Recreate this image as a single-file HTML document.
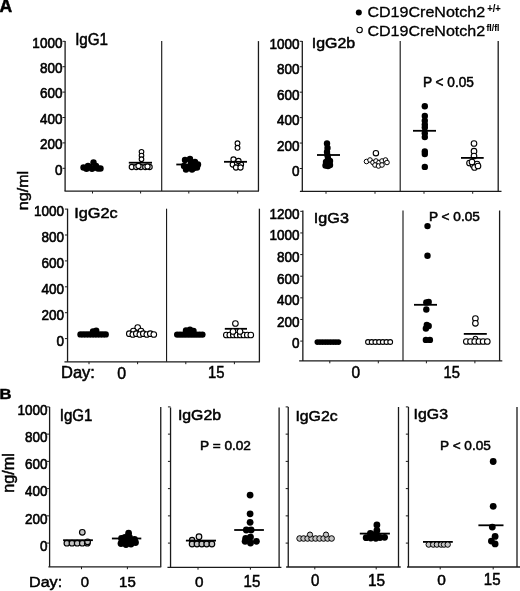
<!DOCTYPE html>
<html><head><meta charset="utf-8"><style>
html,body{margin:0;padding:0;background:#fff;}
body{width:520px;height:591px;overflow:hidden;}
svg{display:block;font-family:"Liberation Sans",sans-serif;will-change:transform;}
text{stroke:#000;}
</style></head><body>
<svg width="520" height="591" viewBox="0 0 520 591">
<rect width="520" height="591" fill="#fff"/>
<text transform="translate(-0.49 12.25) scale(0.9454 1)" font-size="18.60" font-weight="bold" fill="#000" stroke-width="0.50">A</text>
<circle cx="358.80" cy="12.50" r="3.00" fill="#000"/>
<circle cx="359.60" cy="30.00" r="2.70" fill="#fff" stroke="#000" stroke-width="1.10"/>
<text transform="translate(367.43 16.95) scale(1.0876 1)" font-size="14.77" fill="#000" stroke-width="0.30">CD19CreNotch2</text>
<text transform="translate(367.43 35.85) scale(1.0876 1)" font-size="14.77" fill="#000" stroke-width="0.30">CD19CreNotch2</text>
<text transform="translate(487.26 12.15) scale(0.9194 1)" font-size="10.21" font-weight="bold" fill="#000" stroke-width="0.10">+/+</text>
<text transform="translate(486.50 31.05) scale(0.9785 1)" font-size="8.83" font-weight="bold" fill="#000" stroke-width="0.10">fl/fl</text>
<text transform="translate(28.40 210.27) rotate(-90) scale(1.0755 1)" font-size="15.00" stroke-width="0.45">ng/ml</text>
<line x1="65.10" y1="41.10" x2="65.10" y2="191.10" stroke="#1a1a1a" stroke-width="1.30"/>
<line x1="64.50" y1="191.10" x2="258.95" y2="191.10" stroke="#1a1a1a" stroke-width="1.30"/>
<line x1="258.45" y1="41.10" x2="258.45" y2="191.10" stroke="#1a1a1a" stroke-width="1.30"/>
<line x1="161.70" y1="41.10" x2="161.70" y2="191.10" stroke="#1a1a1a" stroke-width="1.15"/>
<line x1="62.50" y1="168.30" x2="65.10" y2="168.30" stroke="#1a1a1a" stroke-width="1.00"/>
<line x1="62.50" y1="142.90" x2="65.10" y2="142.90" stroke="#1a1a1a" stroke-width="1.00"/>
<line x1="62.50" y1="117.50" x2="65.10" y2="117.50" stroke="#1a1a1a" stroke-width="1.00"/>
<line x1="62.50" y1="92.10" x2="65.10" y2="92.10" stroke="#1a1a1a" stroke-width="1.00"/>
<line x1="62.50" y1="66.70" x2="65.10" y2="66.70" stroke="#1a1a1a" stroke-width="1.00"/>
<line x1="62.50" y1="41.30" x2="65.10" y2="41.30" stroke="#1a1a1a" stroke-width="1.00"/>
<line x1="92.50" y1="191.10" x2="92.50" y2="193.50" stroke="#1a1a1a" stroke-width="1.00"/>
<line x1="140.60" y1="191.10" x2="140.60" y2="193.50" stroke="#1a1a1a" stroke-width="1.00"/>
<line x1="188.80" y1="191.10" x2="188.80" y2="193.50" stroke="#1a1a1a" stroke-width="1.00"/>
<line x1="237.70" y1="191.10" x2="237.70" y2="193.50" stroke="#1a1a1a" stroke-width="1.00"/>
<text transform="translate(54.91 174.60) scale(0.9450 1)" font-size="14.30" stroke-width="0.60">0</text>
<text transform="translate(39.88 149.20) scale(0.9450 1)" font-size="14.30" stroke-width="0.60">200</text>
<text transform="translate(39.88 123.80) scale(0.9450 1)" font-size="14.30" stroke-width="0.60">400</text>
<text transform="translate(39.88 98.40) scale(0.9450 1)" font-size="14.30" stroke-width="0.60">600</text>
<text transform="translate(39.88 73.00) scale(0.9450 1)" font-size="14.30" stroke-width="0.60">800</text>
<text transform="translate(32.37 47.60) scale(0.9450 1)" font-size="14.30" stroke-width="0.60">1000</text>
<text transform="translate(75.15 45.25) scale(0.9734 1)" font-size="15.61" fill="#000" stroke-width="0.50">IgG1</text>
<line x1="302.30" y1="41.00" x2="302.30" y2="191.35" stroke="#1a1a1a" stroke-width="1.30"/>
<line x1="299.90" y1="191.35" x2="501.50" y2="191.35" stroke="#1a1a1a" stroke-width="1.30"/>
<line x1="498.20" y1="41.00" x2="498.20" y2="191.35" stroke="#1a1a1a" stroke-width="1.30"/>
<line x1="400.20" y1="41.00" x2="400.20" y2="191.35" stroke="#1a1a1a" stroke-width="1.15"/>
<line x1="299.70" y1="168.50" x2="302.30" y2="168.50" stroke="#1a1a1a" stroke-width="1.00"/>
<line x1="299.70" y1="143.06" x2="302.30" y2="143.06" stroke="#1a1a1a" stroke-width="1.00"/>
<line x1="299.70" y1="117.62" x2="302.30" y2="117.62" stroke="#1a1a1a" stroke-width="1.00"/>
<line x1="299.70" y1="92.18" x2="302.30" y2="92.18" stroke="#1a1a1a" stroke-width="1.00"/>
<line x1="299.70" y1="66.74" x2="302.30" y2="66.74" stroke="#1a1a1a" stroke-width="1.00"/>
<line x1="299.70" y1="41.30" x2="302.30" y2="41.30" stroke="#1a1a1a" stroke-width="1.00"/>
<line x1="326.00" y1="191.35" x2="326.00" y2="193.75" stroke="#1a1a1a" stroke-width="1.00"/>
<line x1="375.00" y1="191.35" x2="375.00" y2="193.75" stroke="#1a1a1a" stroke-width="1.00"/>
<line x1="424.00" y1="191.35" x2="424.00" y2="193.75" stroke="#1a1a1a" stroke-width="1.00"/>
<line x1="472.70" y1="191.35" x2="472.70" y2="193.75" stroke="#1a1a1a" stroke-width="1.00"/>
<text transform="translate(292.01 176.25) scale(0.9450 1)" font-size="14.30" stroke-width="0.60">0</text>
<text transform="translate(276.98 150.81) scale(0.9450 1)" font-size="14.30" stroke-width="0.60">200</text>
<text transform="translate(276.98 125.37) scale(0.9450 1)" font-size="14.30" stroke-width="0.60">400</text>
<text transform="translate(276.98 99.93) scale(0.9450 1)" font-size="14.30" stroke-width="0.60">600</text>
<text transform="translate(276.98 74.49) scale(0.9450 1)" font-size="14.30" stroke-width="0.60">800</text>
<text transform="translate(269.47 49.05) scale(0.9450 1)" font-size="14.30" stroke-width="0.60">1000</text>
<text transform="translate(311.78 47.55) scale(1.0601 1)" font-size="15.04" fill="#000" stroke-width="0.50">IgG2b</text>
<text transform="translate(422.93 86.85) scale(0.9941 1)" font-size="13.75" fill="#000" stroke-width="0.50">P &lt; 0.05</text>
<line x1="67.55" y1="208.70" x2="67.55" y2="361.80" stroke="#1a1a1a" stroke-width="1.30"/>
<line x1="64.45" y1="361.80" x2="259.90" y2="361.80" stroke="#1a1a1a" stroke-width="1.30"/>
<line x1="259.40" y1="208.70" x2="259.40" y2="361.80" stroke="#1a1a1a" stroke-width="1.30"/>
<line x1="166.55" y1="208.70" x2="166.55" y2="361.80" stroke="#1a1a1a" stroke-width="1.15"/>
<line x1="64.95" y1="338.60" x2="67.55" y2="338.60" stroke="#1a1a1a" stroke-width="1.00"/>
<line x1="64.95" y1="312.70" x2="67.55" y2="312.70" stroke="#1a1a1a" stroke-width="1.00"/>
<line x1="64.95" y1="286.80" x2="67.55" y2="286.80" stroke="#1a1a1a" stroke-width="1.00"/>
<line x1="64.95" y1="260.90" x2="67.55" y2="260.90" stroke="#1a1a1a" stroke-width="1.00"/>
<line x1="64.95" y1="235.00" x2="67.55" y2="235.00" stroke="#1a1a1a" stroke-width="1.00"/>
<line x1="64.95" y1="209.10" x2="67.55" y2="209.10" stroke="#1a1a1a" stroke-width="1.00"/>
<line x1="89.00" y1="361.80" x2="89.00" y2="364.20" stroke="#1a1a1a" stroke-width="1.00"/>
<line x1="137.60" y1="361.80" x2="137.60" y2="364.20" stroke="#1a1a1a" stroke-width="1.00"/>
<line x1="185.80" y1="361.80" x2="185.80" y2="364.20" stroke="#1a1a1a" stroke-width="1.00"/>
<line x1="234.40" y1="361.80" x2="234.40" y2="364.20" stroke="#1a1a1a" stroke-width="1.00"/>
<text transform="translate(56.61 345.70) scale(0.9450 1)" font-size="14.30" stroke-width="0.60">0</text>
<text transform="translate(41.58 319.80) scale(0.9450 1)" font-size="14.30" stroke-width="0.60">200</text>
<text transform="translate(41.58 293.90) scale(0.9450 1)" font-size="14.30" stroke-width="0.60">400</text>
<text transform="translate(41.58 268.00) scale(0.9450 1)" font-size="14.30" stroke-width="0.60">600</text>
<text transform="translate(41.58 242.10) scale(0.9450 1)" font-size="14.30" stroke-width="0.60">800</text>
<text transform="translate(34.07 216.20) scale(0.9450 1)" font-size="14.30" stroke-width="0.60">1000</text>
<text transform="translate(74.24 218.15) scale(1.0749 1)" font-size="15.18" fill="#000" stroke-width="0.50">IgG2c</text>
<line x1="302.85" y1="210.50" x2="302.85" y2="360.90" stroke="#1a1a1a" stroke-width="1.30"/>
<line x1="299.15" y1="360.90" x2="502.30" y2="360.90" stroke="#1a1a1a" stroke-width="1.30"/>
<line x1="499.60" y1="210.50" x2="499.60" y2="360.90" stroke="#1a1a1a" stroke-width="1.30"/>
<line x1="403.00" y1="210.50" x2="403.00" y2="360.90" stroke="#1a1a1a" stroke-width="1.15"/>
<line x1="300.25" y1="341.10" x2="302.85" y2="341.10" stroke="#1a1a1a" stroke-width="1.00"/>
<line x1="300.25" y1="319.47" x2="302.85" y2="319.47" stroke="#1a1a1a" stroke-width="1.00"/>
<line x1="300.25" y1="297.84" x2="302.85" y2="297.84" stroke="#1a1a1a" stroke-width="1.00"/>
<line x1="300.25" y1="276.21" x2="302.85" y2="276.21" stroke="#1a1a1a" stroke-width="1.00"/>
<line x1="300.25" y1="254.58" x2="302.85" y2="254.58" stroke="#1a1a1a" stroke-width="1.00"/>
<line x1="300.25" y1="232.95" x2="302.85" y2="232.95" stroke="#1a1a1a" stroke-width="1.00"/>
<line x1="300.25" y1="211.32" x2="302.85" y2="211.32" stroke="#1a1a1a" stroke-width="1.00"/>
<line x1="329.80" y1="360.90" x2="329.80" y2="363.30" stroke="#1a1a1a" stroke-width="1.00"/>
<line x1="378.30" y1="360.90" x2="378.30" y2="363.30" stroke="#1a1a1a" stroke-width="1.00"/>
<line x1="426.40" y1="360.90" x2="426.40" y2="363.30" stroke="#1a1a1a" stroke-width="1.00"/>
<line x1="474.90" y1="360.90" x2="474.90" y2="363.30" stroke="#1a1a1a" stroke-width="1.00"/>
<text transform="translate(292.01 348.45) scale(0.9450 1)" font-size="14.30" stroke-width="0.60">0</text>
<text transform="translate(276.98 326.82) scale(0.9450 1)" font-size="14.30" stroke-width="0.60">200</text>
<text transform="translate(276.98 305.19) scale(0.9450 1)" font-size="14.30" stroke-width="0.60">400</text>
<text transform="translate(276.98 283.56) scale(0.9450 1)" font-size="14.30" stroke-width="0.60">600</text>
<text transform="translate(276.98 261.93) scale(0.9450 1)" font-size="14.30" stroke-width="0.60">800</text>
<text transform="translate(269.47 240.30) scale(0.9450 1)" font-size="14.30" stroke-width="0.60">1000</text>
<text transform="translate(269.47 218.67) scale(0.9450 1)" font-size="14.30" stroke-width="0.60">1200</text>
<text transform="translate(313.86 223.15) scale(1.0667 1)" font-size="15.18" fill="#000" stroke-width="0.50">IgG3</text>
<text transform="translate(429.03 220.65) scale(1.1182 1)" font-size="12.17" fill="#000" stroke-width="0.50">P &lt; 0.05</text>
<text transform="translate(61.00 378.45) scale(1.0522 1)" font-size="15.70" fill="#000" stroke-width="0.50">Day:</text>
<text transform="translate(117.13 378.55) scale(0.9824 1)" font-size="16.18" fill="#000" stroke-width="0.50">0</text>
<text transform="translate(208.02 378.35) scale(0.9064 1)" font-size="16.42" fill="#000" stroke-width="0.50">15</text>
<text transform="translate(351.55 378.35) scale(0.9738 1)" font-size="15.90" fill="#000" stroke-width="0.50">0</text>
<text transform="translate(443.52 378.35) scale(0.9165 1)" font-size="16.13" fill="#000" stroke-width="0.50">15</text>
<text transform="translate(-0.56 399.25) scale(1.0648 1)" font-size="15.55" font-weight="bold" fill="#000" stroke-width="0.50">B</text>
<text transform="translate(14.00 492.78) rotate(-90) scale(1.0397 1)" font-size="15.60" stroke-width="0.45">ng/ml</text>
<line x1="49.60" y1="407.00" x2="49.60" y2="566.80" stroke="#1a1a1a" stroke-width="1.30"/>
<line x1="48.40" y1="566.80" x2="161.25" y2="566.80" stroke="#1a1a1a" stroke-width="1.30"/>
<line x1="160.75" y1="407.00" x2="160.75" y2="566.80" stroke="#1a1a1a" stroke-width="1.30"/>
<line x1="47.00" y1="543.10" x2="49.60" y2="543.10" stroke="#1a1a1a" stroke-width="1.00"/>
<line x1="47.00" y1="515.86" x2="49.60" y2="515.86" stroke="#1a1a1a" stroke-width="1.00"/>
<line x1="47.00" y1="488.62" x2="49.60" y2="488.62" stroke="#1a1a1a" stroke-width="1.00"/>
<line x1="47.00" y1="461.38" x2="49.60" y2="461.38" stroke="#1a1a1a" stroke-width="1.00"/>
<line x1="47.00" y1="434.14" x2="49.60" y2="434.14" stroke="#1a1a1a" stroke-width="1.00"/>
<line x1="47.00" y1="406.90" x2="49.60" y2="406.90" stroke="#1a1a1a" stroke-width="1.00"/>
<line x1="81.50" y1="566.80" x2="81.50" y2="569.20" stroke="#1a1a1a" stroke-width="1.00"/>
<line x1="127.40" y1="566.80" x2="127.40" y2="569.20" stroke="#1a1a1a" stroke-width="1.00"/>
<text transform="translate(40.01 550.75) scale(0.9450 1)" font-size="14.30" stroke-width="0.60">0</text>
<text transform="translate(24.98 523.51) scale(0.9450 1)" font-size="14.30" stroke-width="0.60">200</text>
<text transform="translate(24.98 496.27) scale(0.9450 1)" font-size="14.30" stroke-width="0.60">400</text>
<text transform="translate(24.98 469.03) scale(0.9450 1)" font-size="14.30" stroke-width="0.60">600</text>
<text transform="translate(24.98 441.79) scale(0.9450 1)" font-size="14.30" stroke-width="0.60">800</text>
<text transform="translate(17.47 414.55) scale(0.9450 1)" font-size="14.30" stroke-width="0.60">1000</text>
<line x1="170.55" y1="407.50" x2="170.55" y2="567.30" stroke="#1a1a1a" stroke-width="1.30"/>
<line x1="167.45" y1="567.30" x2="281.40" y2="567.30" stroke="#1a1a1a" stroke-width="1.30"/>
<line x1="279.10" y1="407.50" x2="279.10" y2="567.30" stroke="#1a1a1a" stroke-width="1.30"/>
<line x1="167.95" y1="543.10" x2="170.55" y2="543.10" stroke="#1a1a1a" stroke-width="1.00"/>
<line x1="167.95" y1="515.86" x2="170.55" y2="515.86" stroke="#1a1a1a" stroke-width="1.00"/>
<line x1="167.95" y1="488.62" x2="170.55" y2="488.62" stroke="#1a1a1a" stroke-width="1.00"/>
<line x1="167.95" y1="461.38" x2="170.55" y2="461.38" stroke="#1a1a1a" stroke-width="1.00"/>
<line x1="167.95" y1="434.14" x2="170.55" y2="434.14" stroke="#1a1a1a" stroke-width="1.00"/>
<line x1="167.95" y1="406.90" x2="170.55" y2="406.90" stroke="#1a1a1a" stroke-width="1.00"/>
<line x1="198.00" y1="567.30" x2="198.00" y2="569.70" stroke="#1a1a1a" stroke-width="1.00"/>
<line x1="250.40" y1="567.30" x2="250.40" y2="569.70" stroke="#1a1a1a" stroke-width="1.00"/>
<line x1="288.25" y1="407.00" x2="288.25" y2="567.00" stroke="#1a1a1a" stroke-width="1.30"/>
<line x1="286.15" y1="567.00" x2="400.70" y2="567.00" stroke="#1a1a1a" stroke-width="1.30"/>
<line x1="398.50" y1="407.00" x2="398.50" y2="567.00" stroke="#1a1a1a" stroke-width="1.30"/>
<line x1="285.65" y1="543.10" x2="288.25" y2="543.10" stroke="#1a1a1a" stroke-width="1.00"/>
<line x1="285.65" y1="515.86" x2="288.25" y2="515.86" stroke="#1a1a1a" stroke-width="1.00"/>
<line x1="285.65" y1="488.62" x2="288.25" y2="488.62" stroke="#1a1a1a" stroke-width="1.00"/>
<line x1="285.65" y1="461.38" x2="288.25" y2="461.38" stroke="#1a1a1a" stroke-width="1.00"/>
<line x1="285.65" y1="434.14" x2="288.25" y2="434.14" stroke="#1a1a1a" stroke-width="1.00"/>
<line x1="285.65" y1="406.90" x2="288.25" y2="406.90" stroke="#1a1a1a" stroke-width="1.00"/>
<line x1="314.80" y1="567.00" x2="314.80" y2="569.40" stroke="#1a1a1a" stroke-width="1.00"/>
<line x1="376.20" y1="567.00" x2="376.20" y2="569.40" stroke="#1a1a1a" stroke-width="1.00"/>
<line x1="408.45" y1="407.00" x2="408.45" y2="567.00" stroke="#1a1a1a" stroke-width="1.30"/>
<line x1="407.05" y1="567.00" x2="520.00" y2="567.00" stroke="#1a1a1a" stroke-width="1.30"/>
<line x1="517.00" y1="407.00" x2="517.00" y2="567.00" stroke="#1a1a1a" stroke-width="1.30"/>
<line x1="405.85" y1="543.10" x2="408.45" y2="543.10" stroke="#1a1a1a" stroke-width="1.00"/>
<line x1="405.85" y1="515.86" x2="408.45" y2="515.86" stroke="#1a1a1a" stroke-width="1.00"/>
<line x1="405.85" y1="488.62" x2="408.45" y2="488.62" stroke="#1a1a1a" stroke-width="1.00"/>
<line x1="405.85" y1="461.38" x2="408.45" y2="461.38" stroke="#1a1a1a" stroke-width="1.00"/>
<line x1="405.85" y1="434.14" x2="408.45" y2="434.14" stroke="#1a1a1a" stroke-width="1.00"/>
<line x1="405.85" y1="406.90" x2="408.45" y2="406.90" stroke="#1a1a1a" stroke-width="1.00"/>
<line x1="440.20" y1="567.00" x2="440.20" y2="569.40" stroke="#1a1a1a" stroke-width="1.00"/>
<line x1="493.20" y1="567.00" x2="493.20" y2="569.40" stroke="#1a1a1a" stroke-width="1.00"/>
<text transform="translate(59.76 420.65) scale(0.9671 1)" font-size="15.61" fill="#000" stroke-width="0.50">IgG1</text>
<text transform="translate(177.89 420.45) scale(1.0598 1)" font-size="14.97" fill="#000" stroke-width="0.50">IgG2b</text>
<text transform="translate(295.38 421.35) scale(1.0271 1)" font-size="15.47" fill="#000" stroke-width="0.50">IgG2c</text>
<text transform="translate(413.58 419.15) scale(1.0278 1)" font-size="15.47" fill="#000" stroke-width="0.50">IgG3</text>
<text transform="translate(200.03 449.75) scale(1.0469 1)" font-size="13.03" fill="#000" stroke-width="0.50">P = 0.02</text>
<text transform="translate(440.03 449.55) scale(1.0112 1)" font-size="13.46" fill="#000" stroke-width="0.50">P &lt; 0.05</text>
<text transform="translate(29.03 587.15) scale(1.0445 1)" font-size="15.41" fill="#000" stroke-width="0.50">Day:</text>
<text transform="translate(80.67 586.95) scale(0.9784 1)" font-size="15.18" fill="#000" stroke-width="0.50">0</text>
<text transform="translate(119.11 586.95) scale(0.9728 1)" font-size="15.41" fill="#000" stroke-width="0.50">15</text>
<text transform="translate(195.05 586.95) scale(0.9873 1)" font-size="15.47" fill="#000" stroke-width="0.50">0</text>
<text transform="translate(243.50 586.95) scale(0.9612 1)" font-size="15.70" fill="#000" stroke-width="0.50">15</text>
<text transform="translate(311.06 586.35) scale(0.9390 1)" font-size="16.04" fill="#000" stroke-width="0.50">0</text>
<text transform="translate(367.98 586.25) scale(0.9539 1)" font-size="16.13" fill="#000" stroke-width="0.50">15</text>
<text transform="translate(437.25 585.25) scale(1.0102 1)" font-size="15.32" fill="#000" stroke-width="0.50">0</text>
<text transform="translate(483.80 585.15) scale(0.9612 1)" font-size="15.70" fill="#000" stroke-width="0.50">15</text>
<circle cx="83.50" cy="167.50" r="3.20" fill="#000"/>
<circle cx="86.50" cy="168.80" r="3.20" fill="#000"/>
<circle cx="89.50" cy="167.00" r="3.20" fill="#000"/>
<circle cx="92.00" cy="168.80" r="3.20" fill="#000"/>
<circle cx="95.00" cy="167.50" r="3.20" fill="#000"/>
<circle cx="98.00" cy="168.50" r="3.20" fill="#000"/>
<circle cx="100.50" cy="168.50" r="3.20" fill="#000"/>
<circle cx="93.50" cy="162.50" r="3.20" fill="#000"/>
<circle cx="88.00" cy="166.00" r="3.20" fill="#000"/>
<circle cx="96.00" cy="166.00" r="3.20" fill="#000"/>
<circle cx="141.50" cy="151.80" r="2.30" fill="#fff" stroke="#000" stroke-width="1.10"/>
<circle cx="141.50" cy="155.50" r="2.30" fill="#fff" stroke="#000" stroke-width="1.10"/>
<circle cx="141.50" cy="159.20" r="2.30" fill="#fff" stroke="#000" stroke-width="1.10"/>
<line x1="128.80" y1="162.70" x2="152.00" y2="162.70" stroke="#000" stroke-width="1.80"/>
<circle cx="131.80" cy="167.00" r="2.60" fill="#fff" stroke="#000" stroke-width="1.10"/>
<circle cx="136.30" cy="167.00" r="2.60" fill="#fff" stroke="#000" stroke-width="1.10"/>
<circle cx="140.80" cy="167.00" r="2.60" fill="#fff" stroke="#000" stroke-width="1.10"/>
<circle cx="145.30" cy="167.00" r="2.60" fill="#fff" stroke="#000" stroke-width="1.10"/>
<circle cx="149.60" cy="167.00" r="2.60" fill="#fff" stroke="#000" stroke-width="1.10"/>
<circle cx="138.50" cy="166.00" r="2.60" fill="#fff" stroke="#000" stroke-width="1.10"/>
<circle cx="147.50" cy="166.50" r="2.60" fill="#fff" stroke="#000" stroke-width="1.10"/>
<line x1="176.30" y1="164.50" x2="200.50" y2="164.50" stroke="#000" stroke-width="1.80"/>
<circle cx="185.00" cy="160.00" r="3.20" fill="#000"/>
<circle cx="190.00" cy="159.00" r="3.20" fill="#000"/>
<circle cx="195.00" cy="162.00" r="3.20" fill="#000"/>
<circle cx="198.00" cy="164.50" r="3.20" fill="#000"/>
<circle cx="184.00" cy="166.00" r="3.20" fill="#000"/>
<circle cx="189.00" cy="167.00" r="3.20" fill="#000"/>
<circle cx="194.00" cy="168.00" r="3.20" fill="#000"/>
<circle cx="186.00" cy="169.50" r="3.20" fill="#000"/>
<circle cx="192.00" cy="169.50" r="3.20" fill="#000"/>
<circle cx="197.00" cy="167.50" r="3.20" fill="#000"/>
<circle cx="191.00" cy="163.00" r="3.20" fill="#000"/>
<circle cx="193.00" cy="165.00" r="3.20" fill="#000"/>
<circle cx="237.50" cy="143.30" r="2.40" fill="#fff" stroke="#000" stroke-width="1.10"/>
<circle cx="237.50" cy="147.80" r="2.40" fill="#fff" stroke="#000" stroke-width="1.10"/>
<circle cx="233.50" cy="159.50" r="2.60" fill="#fff" stroke="#000" stroke-width="1.10"/>
<circle cx="232.80" cy="164.50" r="2.60" fill="#fff" stroke="#000" stroke-width="1.10"/>
<circle cx="237.00" cy="163.00" r="2.60" fill="#fff" stroke="#000" stroke-width="1.10"/>
<circle cx="241.00" cy="164.50" r="2.60" fill="#fff" stroke="#000" stroke-width="1.10"/>
<circle cx="236.00" cy="167.50" r="2.60" fill="#fff" stroke="#000" stroke-width="1.10"/>
<circle cx="240.50" cy="167.50" r="2.60" fill="#fff" stroke="#000" stroke-width="1.10"/>
<circle cx="238.50" cy="161.00" r="2.60" fill="#fff" stroke="#000" stroke-width="1.10"/>
<line x1="224.00" y1="161.80" x2="247.00" y2="161.80" stroke="#000" stroke-width="1.80"/>
<circle cx="327.00" cy="143.50" r="3.20" fill="#000"/>
<circle cx="327.50" cy="148.00" r="3.20" fill="#000"/>
<circle cx="327.00" cy="152.00" r="3.20" fill="#000"/>
<circle cx="327.50" cy="155.50" r="3.20" fill="#000"/>
<circle cx="328.00" cy="158.50" r="3.20" fill="#000"/>
<circle cx="330.00" cy="161.00" r="3.20" fill="#000"/>
<circle cx="326.00" cy="162.00" r="3.20" fill="#000"/>
<circle cx="330.00" cy="165.00" r="3.20" fill="#000"/>
<circle cx="325.50" cy="165.50" r="3.20" fill="#000"/>
<circle cx="328.00" cy="166.00" r="3.20" fill="#000"/>
<line x1="317.00" y1="155.00" x2="340.00" y2="155.00" stroke="#000" stroke-width="1.80"/>
<circle cx="375.90" cy="153.20" r="2.70" fill="#fff" stroke="#000" stroke-width="1.10"/>
<circle cx="366.50" cy="161.50" r="2.30" fill="#fff" stroke="#000" stroke-width="1.00"/>
<circle cx="370.00" cy="160.00" r="2.30" fill="#fff" stroke="#000" stroke-width="1.00"/>
<circle cx="373.00" cy="162.50" r="2.30" fill="#fff" stroke="#000" stroke-width="1.00"/>
<circle cx="376.00" cy="161.00" r="2.30" fill="#fff" stroke="#000" stroke-width="1.00"/>
<circle cx="379.00" cy="162.50" r="2.30" fill="#fff" stroke="#000" stroke-width="1.00"/>
<circle cx="382.00" cy="161.00" r="2.30" fill="#fff" stroke="#000" stroke-width="1.00"/>
<circle cx="385.50" cy="160.00" r="2.30" fill="#fff" stroke="#000" stroke-width="1.00"/>
<circle cx="387.00" cy="162.50" r="2.30" fill="#fff" stroke="#000" stroke-width="1.00"/>
<circle cx="375.00" cy="165.00" r="2.30" fill="#fff" stroke="#000" stroke-width="1.00"/>
<circle cx="378.50" cy="166.00" r="2.30" fill="#fff" stroke="#000" stroke-width="1.00"/>
<circle cx="382.00" cy="165.00" r="2.30" fill="#fff" stroke="#000" stroke-width="1.00"/>
<circle cx="424.80" cy="106.30" r="3.20" fill="#000"/>
<circle cx="424.80" cy="116.00" r="3.20" fill="#000"/>
<circle cx="424.80" cy="120.80" r="3.20" fill="#000"/>
<circle cx="424.80" cy="124.60" r="3.20" fill="#000"/>
<circle cx="424.80" cy="127.50" r="3.20" fill="#000"/>
<circle cx="424.80" cy="133.30" r="3.20" fill="#000"/>
<circle cx="424.80" cy="137.10" r="3.20" fill="#000"/>
<circle cx="424.80" cy="151.50" r="3.20" fill="#000"/>
<circle cx="424.80" cy="154.00" r="3.20" fill="#000"/>
<circle cx="424.80" cy="166.90" r="3.20" fill="#000"/>
<line x1="413.00" y1="130.80" x2="436.00" y2="130.80" stroke="#000" stroke-width="1.80"/>
<circle cx="474.00" cy="143.50" r="2.80" fill="#fff" stroke="#000" stroke-width="1.10"/>
<circle cx="474.00" cy="151.20" r="2.80" fill="#fff" stroke="#000" stroke-width="1.10"/>
<circle cx="474.00" cy="156.00" r="2.80" fill="#fff" stroke="#000" stroke-width="1.10"/>
<circle cx="469.50" cy="163.00" r="2.80" fill="#fff" stroke="#000" stroke-width="1.10"/>
<circle cx="473.00" cy="165.00" r="2.80" fill="#fff" stroke="#000" stroke-width="1.10"/>
<circle cx="477.00" cy="164.00" r="2.80" fill="#fff" stroke="#000" stroke-width="1.10"/>
<circle cx="474.50" cy="167.50" r="2.80" fill="#fff" stroke="#000" stroke-width="1.10"/>
<circle cx="472.00" cy="162.00" r="2.80" fill="#fff" stroke="#000" stroke-width="1.10"/>
<circle cx="478.00" cy="166.00" r="2.80" fill="#fff" stroke="#000" stroke-width="1.10"/>
<line x1="461.00" y1="157.90" x2="483.70" y2="157.90" stroke="#000" stroke-width="1.80"/>
<circle cx="80.50" cy="334.40" r="3.20" fill="#000"/>
<circle cx="83.30" cy="334.40" r="3.20" fill="#000"/>
<circle cx="86.10" cy="334.40" r="3.20" fill="#000"/>
<circle cx="88.90" cy="334.40" r="3.20" fill="#000"/>
<circle cx="91.70" cy="334.40" r="3.20" fill="#000"/>
<circle cx="94.50" cy="334.40" r="3.20" fill="#000"/>
<circle cx="97.30" cy="334.40" r="3.20" fill="#000"/>
<circle cx="100.10" cy="334.40" r="3.20" fill="#000"/>
<circle cx="102.90" cy="334.40" r="3.20" fill="#000"/>
<circle cx="105.70" cy="334.40" r="3.20" fill="#000"/>
<circle cx="96.20" cy="330.80" r="3.20" fill="#000"/>
<circle cx="93.00" cy="331.50" r="3.20" fill="#000"/>
<circle cx="137.70" cy="327.50" r="2.80" fill="#fff" stroke="#000" stroke-width="1.10"/>
<circle cx="133.40" cy="331.00" r="2.80" fill="#fff" stroke="#000" stroke-width="1.10"/>
<circle cx="141.00" cy="331.00" r="2.80" fill="#fff" stroke="#000" stroke-width="1.10"/>
<circle cx="129.30" cy="333.70" r="2.80" fill="#fff" stroke="#000" stroke-width="1.10"/>
<circle cx="132.80" cy="334.50" r="2.80" fill="#fff" stroke="#000" stroke-width="1.10"/>
<circle cx="136.30" cy="333.70" r="2.80" fill="#fff" stroke="#000" stroke-width="1.10"/>
<circle cx="139.80" cy="334.50" r="2.80" fill="#fff" stroke="#000" stroke-width="1.10"/>
<circle cx="143.30" cy="333.70" r="2.80" fill="#fff" stroke="#000" stroke-width="1.10"/>
<circle cx="146.80" cy="334.50" r="2.80" fill="#fff" stroke="#000" stroke-width="1.10"/>
<circle cx="150.30" cy="333.70" r="2.80" fill="#fff" stroke="#000" stroke-width="1.10"/>
<circle cx="153.80" cy="334.50" r="2.80" fill="#fff" stroke="#000" stroke-width="1.10"/>
<circle cx="177.20" cy="334.60" r="3.20" fill="#000"/>
<circle cx="180.00" cy="334.60" r="3.20" fill="#000"/>
<circle cx="182.80" cy="334.60" r="3.20" fill="#000"/>
<circle cx="185.60" cy="334.60" r="3.20" fill="#000"/>
<circle cx="188.40" cy="334.60" r="3.20" fill="#000"/>
<circle cx="191.20" cy="334.60" r="3.20" fill="#000"/>
<circle cx="194.00" cy="334.60" r="3.20" fill="#000"/>
<circle cx="196.80" cy="334.60" r="3.20" fill="#000"/>
<circle cx="199.60" cy="334.60" r="3.20" fill="#000"/>
<circle cx="202.40" cy="334.60" r="3.20" fill="#000"/>
<circle cx="186.00" cy="330.50" r="3.20" fill="#000"/>
<circle cx="190.00" cy="329.80" r="3.20" fill="#000"/>
<circle cx="193.50" cy="331.00" r="3.20" fill="#000"/>
<circle cx="235.40" cy="323.50" r="2.80" fill="#fff" stroke="#000" stroke-width="1.10"/>
<line x1="224.80" y1="328.80" x2="247.00" y2="328.80" stroke="#000" stroke-width="1.80"/>
<circle cx="226.30" cy="335.00" r="2.80" fill="#fff" stroke="#000" stroke-width="1.10"/>
<circle cx="229.80" cy="335.00" r="2.80" fill="#fff" stroke="#000" stroke-width="1.10"/>
<circle cx="233.30" cy="335.00" r="2.80" fill="#fff" stroke="#000" stroke-width="1.10"/>
<circle cx="236.80" cy="335.00" r="2.80" fill="#fff" stroke="#000" stroke-width="1.10"/>
<circle cx="240.30" cy="335.00" r="2.80" fill="#fff" stroke="#000" stroke-width="1.10"/>
<circle cx="243.80" cy="335.00" r="2.80" fill="#fff" stroke="#000" stroke-width="1.10"/>
<circle cx="247.30" cy="335.00" r="2.80" fill="#fff" stroke="#000" stroke-width="1.10"/>
<circle cx="250.80" cy="335.00" r="2.80" fill="#fff" stroke="#000" stroke-width="1.10"/>
<circle cx="233.00" cy="331.50" r="2.80" fill="#fff" stroke="#000" stroke-width="1.10"/>
<circle cx="240.00" cy="331.50" r="2.80" fill="#fff" stroke="#000" stroke-width="1.10"/>
<circle cx="317.30" cy="342.10" r="2.80" fill="#000"/>
<circle cx="319.95" cy="342.10" r="2.80" fill="#000"/>
<circle cx="322.60" cy="342.10" r="2.80" fill="#000"/>
<circle cx="325.25" cy="342.10" r="2.80" fill="#000"/>
<circle cx="327.90" cy="342.10" r="2.80" fill="#000"/>
<circle cx="330.55" cy="342.10" r="2.80" fill="#000"/>
<circle cx="333.20" cy="342.10" r="2.80" fill="#000"/>
<circle cx="335.85" cy="342.10" r="2.80" fill="#000"/>
<circle cx="338.50" cy="342.10" r="2.80" fill="#000"/>
<circle cx="368.00" cy="342.00" r="2.40" fill="#fff" stroke="#000" stroke-width="1.10"/>
<circle cx="371.70" cy="342.00" r="2.40" fill="#fff" stroke="#000" stroke-width="1.10"/>
<circle cx="375.40" cy="342.00" r="2.40" fill="#fff" stroke="#000" stroke-width="1.10"/>
<circle cx="379.10" cy="342.00" r="2.40" fill="#fff" stroke="#000" stroke-width="1.10"/>
<circle cx="382.80" cy="342.00" r="2.40" fill="#fff" stroke="#000" stroke-width="1.10"/>
<circle cx="386.50" cy="342.00" r="2.40" fill="#fff" stroke="#000" stroke-width="1.10"/>
<circle cx="390.20" cy="342.00" r="2.40" fill="#fff" stroke="#000" stroke-width="1.10"/>
<circle cx="427.50" cy="226.10" r="3.20" fill="#000"/>
<circle cx="427.50" cy="255.70" r="3.20" fill="#000"/>
<circle cx="426.30" cy="302.40" r="3.20" fill="#000"/>
<circle cx="428.70" cy="302.00" r="3.20" fill="#000"/>
<circle cx="426.30" cy="309.50" r="3.20" fill="#000"/>
<circle cx="426.80" cy="325.00" r="3.20" fill="#000"/>
<circle cx="428.70" cy="326.00" r="3.20" fill="#000"/>
<circle cx="425.90" cy="328.50" r="3.20" fill="#000"/>
<circle cx="425.90" cy="339.90" r="3.20" fill="#000"/>
<circle cx="429.90" cy="339.90" r="3.20" fill="#000"/>
<line x1="414.00" y1="304.80" x2="437.00" y2="304.80" stroke="#000" stroke-width="1.80"/>
<circle cx="475.40" cy="318.50" r="2.80" fill="#fff" stroke="#000" stroke-width="1.10"/>
<circle cx="475.40" cy="323.30" r="2.80" fill="#fff" stroke="#000" stroke-width="1.10"/>
<line x1="463.80" y1="333.90" x2="486.80" y2="333.90" stroke="#000" stroke-width="1.80"/>
<circle cx="475.40" cy="338.50" r="2.20" fill="#fff" stroke="#000" stroke-width="1.10"/>
<circle cx="466.30" cy="341.50" r="2.80" fill="#fff" stroke="#000" stroke-width="1.10"/>
<circle cx="470.50" cy="341.50" r="2.80" fill="#fff" stroke="#000" stroke-width="1.10"/>
<circle cx="474.70" cy="341.50" r="2.80" fill="#fff" stroke="#000" stroke-width="1.10"/>
<circle cx="478.90" cy="341.50" r="2.80" fill="#fff" stroke="#000" stroke-width="1.10"/>
<circle cx="483.10" cy="341.50" r="2.80" fill="#fff" stroke="#000" stroke-width="1.10"/>
<circle cx="487.30" cy="341.50" r="2.80" fill="#fff" stroke="#000" stroke-width="1.10"/>
<circle cx="66.90" cy="543.20" r="2.80" fill="#c4c4c4" stroke="#000" stroke-width="1.20"/>
<circle cx="72.00" cy="543.20" r="2.80" fill="#c4c4c4" stroke="#000" stroke-width="1.20"/>
<circle cx="77.20" cy="543.20" r="2.80" fill="#c4c4c4" stroke="#000" stroke-width="1.20"/>
<circle cx="82.30" cy="543.20" r="2.80" fill="#c4c4c4" stroke="#000" stroke-width="1.20"/>
<circle cx="87.30" cy="543.20" r="2.80" fill="#c4c4c4" stroke="#000" stroke-width="1.20"/>
<circle cx="87.60" cy="541.80" r="2.80" fill="#c4c4c4" stroke="#000" stroke-width="1.20"/>
<circle cx="82.30" cy="532.30" r="2.80" fill="#c4c4c4" stroke="#000" stroke-width="1.20"/>
<line x1="63.10" y1="540.20" x2="92.90" y2="540.20" stroke="#000" stroke-width="1.80"/>
<line x1="111.90" y1="538.50" x2="141.30" y2="538.50" stroke="#000" stroke-width="1.80"/>
<circle cx="128.60" cy="533.20" r="3.40" fill="#000"/>
<circle cx="121.50" cy="538.50" r="3.40" fill="#000"/>
<circle cx="121.00" cy="543.50" r="3.40" fill="#000"/>
<circle cx="125.50" cy="541.00" r="3.40" fill="#000"/>
<circle cx="126.00" cy="544.50" r="3.40" fill="#000"/>
<circle cx="130.00" cy="540.50" r="3.40" fill="#000"/>
<circle cx="131.00" cy="544.00" r="3.40" fill="#000"/>
<circle cx="134.50" cy="539.50" r="3.40" fill="#000"/>
<circle cx="135.50" cy="542.50" r="3.40" fill="#000"/>
<circle cx="125.00" cy="537.50" r="3.40" fill="#000"/>
<circle cx="129.50" cy="537.50" r="3.40" fill="#000"/>
<circle cx="192.10" cy="540.00" r="2.60" fill="#c4c4c4" stroke="#000" stroke-width="1.20"/>
<circle cx="192.10" cy="544.00" r="2.80" fill="#c4c4c4" stroke="#000" stroke-width="1.20"/>
<circle cx="197.00" cy="544.00" r="2.80" fill="#c4c4c4" stroke="#000" stroke-width="1.20"/>
<circle cx="201.80" cy="544.00" r="2.80" fill="#c4c4c4" stroke="#000" stroke-width="1.20"/>
<circle cx="206.70" cy="544.00" r="2.80" fill="#c4c4c4" stroke="#000" stroke-width="1.20"/>
<circle cx="211.90" cy="544.00" r="2.80" fill="#c4c4c4" stroke="#000" stroke-width="1.20"/>
<circle cx="199.00" cy="536.70" r="2.80" fill="#e4e4e4" stroke="#000" stroke-width="1.20"/>
<line x1="185.90" y1="540.60" x2="216.00" y2="540.60" stroke="#000" stroke-width="1.80"/>
<circle cx="250.10" cy="495.10" r="3.40" fill="#000"/>
<circle cx="250.10" cy="513.80" r="3.40" fill="#000"/>
<circle cx="250.10" cy="522.30" r="3.40" fill="#000"/>
<circle cx="246.30" cy="530.00" r="3.40" fill="#000"/>
<circle cx="251.10" cy="530.00" r="3.40" fill="#000"/>
<circle cx="245.70" cy="538.30" r="3.40" fill="#000"/>
<circle cx="250.50" cy="537.10" r="3.40" fill="#000"/>
<circle cx="245.10" cy="541.30" r="3.40" fill="#000"/>
<circle cx="250.50" cy="543.00" r="3.40" fill="#000"/>
<circle cx="256.40" cy="541.30" r="3.40" fill="#000"/>
<line x1="234.20" y1="530.00" x2="263.90" y2="530.00" stroke="#000" stroke-width="1.80"/>
<circle cx="299.60" cy="538.50" r="2.80" fill="#c4c4c4" stroke="#000" stroke-width="1.00"/>
<circle cx="303.60" cy="538.50" r="2.80" fill="#c4c4c4" stroke="#000" stroke-width="1.00"/>
<circle cx="307.60" cy="538.50" r="2.80" fill="#c4c4c4" stroke="#000" stroke-width="1.00"/>
<circle cx="311.60" cy="538.50" r="2.80" fill="#c4c4c4" stroke="#000" stroke-width="1.00"/>
<circle cx="315.60" cy="538.50" r="2.80" fill="#c4c4c4" stroke="#000" stroke-width="1.00"/>
<circle cx="319.60" cy="538.50" r="2.80" fill="#c4c4c4" stroke="#000" stroke-width="1.00"/>
<circle cx="323.60" cy="538.50" r="2.80" fill="#c4c4c4" stroke="#000" stroke-width="1.00"/>
<circle cx="327.60" cy="538.50" r="2.80" fill="#c4c4c4" stroke="#000" stroke-width="1.00"/>
<circle cx="331.60" cy="538.50" r="2.80" fill="#c4c4c4" stroke="#000" stroke-width="1.00"/>
<circle cx="310.00" cy="534.60" r="2.60" fill="#c4c4c4" stroke="#000" stroke-width="1.00"/>
<circle cx="326.00" cy="534.60" r="2.60" fill="#c4c4c4" stroke="#000" stroke-width="1.00"/>
<line x1="359.80" y1="533.60" x2="389.90" y2="533.60" stroke="#000" stroke-width="1.80"/>
<circle cx="376.90" cy="525.00" r="3.40" fill="#000"/>
<circle cx="376.90" cy="530.40" r="3.40" fill="#000"/>
<circle cx="370.40" cy="533.50" r="3.40" fill="#000"/>
<circle cx="376.00" cy="534.00" r="3.40" fill="#000"/>
<circle cx="366.20" cy="537.70" r="3.40" fill="#000"/>
<circle cx="370.80" cy="538.00" r="3.40" fill="#000"/>
<circle cx="375.80" cy="538.30" r="3.40" fill="#000"/>
<circle cx="380.00" cy="537.50" r="3.40" fill="#000"/>
<circle cx="384.60" cy="537.30" r="3.40" fill="#000"/>
<line x1="423.00" y1="541.90" x2="452.80" y2="541.90" stroke="#000" stroke-width="1.80"/>
<circle cx="428.70" cy="544.60" r="2.70" fill="#c4c4c4" stroke="#000" stroke-width="1.00"/>
<circle cx="433.20" cy="544.60" r="2.70" fill="#c4c4c4" stroke="#000" stroke-width="1.00"/>
<circle cx="436.90" cy="544.60" r="2.70" fill="#c4c4c4" stroke="#000" stroke-width="1.00"/>
<circle cx="441.10" cy="544.60" r="2.70" fill="#c4c4c4" stroke="#000" stroke-width="1.00"/>
<circle cx="444.00" cy="544.60" r="2.70" fill="#c4c4c4" stroke="#000" stroke-width="1.00"/>
<circle cx="447.70" cy="544.60" r="2.70" fill="#c4c4c4" stroke="#000" stroke-width="1.00"/>
<circle cx="493.20" cy="461.50" r="3.40" fill="#000"/>
<circle cx="493.20" cy="506.30" r="3.40" fill="#000"/>
<circle cx="492.30" cy="527.10" r="3.40" fill="#000"/>
<circle cx="495.10" cy="536.40" r="3.40" fill="#000"/>
<circle cx="491.40" cy="541.10" r="3.40" fill="#000"/>
<circle cx="495.10" cy="543.90" r="3.40" fill="#000"/>
<line x1="478.40" y1="525.30" x2="503.50" y2="525.30" stroke="#000" stroke-width="1.80"/>
</svg>
</body></html>
